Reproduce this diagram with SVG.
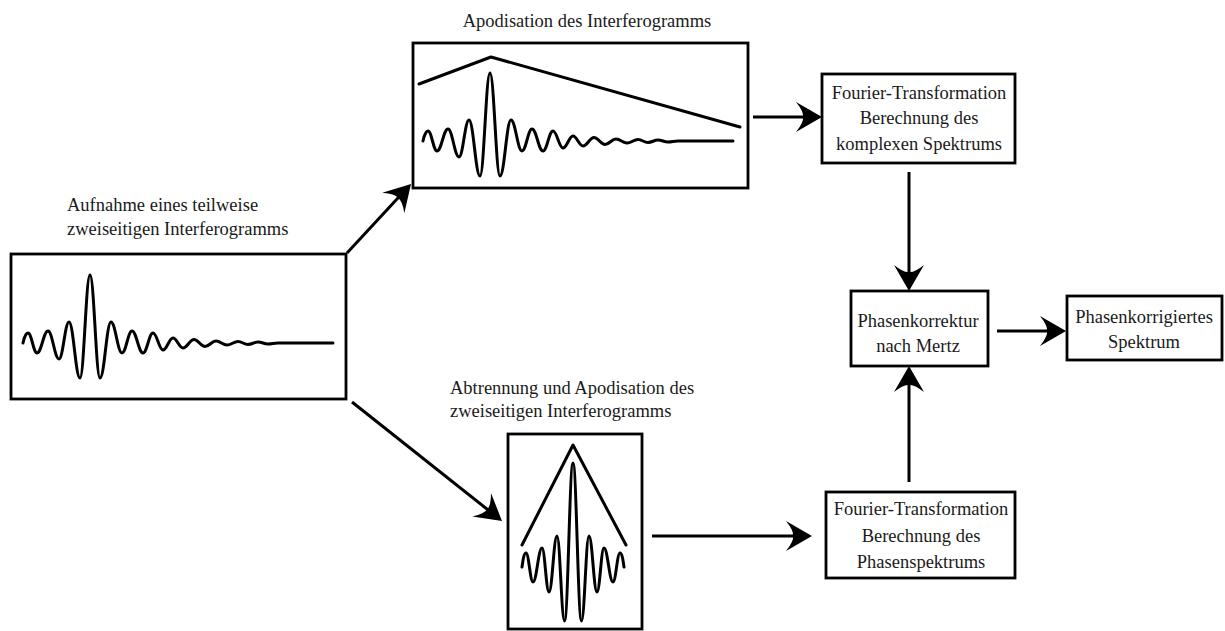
<svg xmlns="http://www.w3.org/2000/svg" xmlns:xlink="http://www.w3.org/1999/xlink" width="1225" height="631" viewBox="0 0 1225 631">
<style>
.box{fill:#fff;stroke:#000;stroke-width:2.8}
.wave{fill:none;stroke:#000;stroke-width:3;stroke-linejoin:round;stroke-linecap:round}
.conn{fill:none;stroke:#000;stroke-width:3}
text{font-family:"Liberation Serif","Times New Roman",serif;font-size:18.5px;fill:#1a1a1a}
.c{text-anchor:middle}
</style>
<defs>
<marker id="ah" markerUnits="userSpaceOnUse" markerWidth="40" markerHeight="40" viewBox="-20 -20 40 40" refX="0" refY="0" orient="auto" overflow="visible">
<path d="M10,0 L-16,-15 Q-8,-5 -9,0 Q-8,5 -16,15 Z" fill="#000"/>
</marker>
<path id="ifg" d="M-67,0 C-66,-5 -64,-10 -62,-10 C-58.4,-10 -56.6,10 -53,10 C-48.6,10 -46.4,-12 -42,-12 C-37.6,-12 -35.4,16 -31,16 C-27,16 -25,-21 -21,-21 C-16.6,-21 -14.4,35 -10,35 C-6,35 -4,-68 0,-68 C4,-68 6,35 10,35 C14.4,35 16.6,-21 21,-21 C25.4,-21 27.6,10 32,10 C36,10 38,-12 42,-12 C46.4,-12 48.6,10 53,10 C57,10 59,-10 63,-10 C67,-10 69,7 73,7 C77,7 79,-5 83,-5 C87,-5 89,5 93,5 C97.4,5 99.6,-3.5 104,-3.5 C108.4,-3.5 110.6,3.5 115,3.5 C119.4,3.5 121.6,-2 126,-2 C130.4,-2 132.6,2 137,2 C141.4,2 143.6,-1.5 148,-1.5 C152,-1.5 154,1.5 158,1.5 C162,1.5 164,-1 168,-1 C172,-1 174,1 178,1 C182,1 184,0 188,0 L243,0"/>
</defs>
<rect width="1225" height="631" fill="#fff"/>

<g id="connectors">
<line class="conn" x1="347" y1="253" x2="404.2" y2="191.3" marker-end="url(#ah)"/>
<line class="conn" x1="352" y1="402" x2="494.2" y2="514.8" marker-end="url(#ah)"/>
<line class="conn" x1="753" y1="117" x2="812" y2="117" marker-end="url(#ah)"/>
<line class="conn" x1="909" y1="172" x2="909" y2="281" marker-end="url(#ah)"/>
<line class="conn" x1="909" y1="482" x2="909" y2="376" marker-end="url(#ah)"/>
<line class="conn" x1="997" y1="331" x2="1056" y2="331" marker-end="url(#ah)"/>
<line class="conn" x1="652" y1="536" x2="802" y2="536" marker-end="url(#ah)"/>
</g>

<g id="node-aufnahme">
<text x="67" y="211">Aufnahme eines teilweise</text>
<text x="67" y="235">zweiseitigen Interferogramms</text>
<rect class="box" x="11" y="254" width="335" height="145"/>
<use xlink:href="#ifg" href="#ifg" class="wave" transform="translate(90,343)"/>
</g>

<g id="node-apodisation">
<text class="c" x="587" y="27">Apodisation des Interferogramms</text>
<rect class="box" x="413" y="43" width="335" height="145"/>
<polyline class="wave" points="419,84 491,57 740,127"/>
<use xlink:href="#ifg" href="#ifg" class="wave" transform="translate(490,141)"/>
</g>

<g id="node-abtrennung">
<text x="450" y="394">Abtrennung und Apodisation des</text>
<text x="450" y="417">zweiseitigen Interferogramms</text>
<rect class="box" x="508" y="434" width="134" height="195"/>
<polyline class="wave" points="522,545 573,445 626,545"/>
<path class="wave" transform="translate(573,567)" d="M-51,0 C-50,-7 -49,-14 -47,-14 C-44.2,-14 -42.8,15 -40,15 C-36.4,15 -34.6,-19 -31,-19 C-28.2,-19 -26.8,25 -24,25 C-20.8,25 -19.2,-31 -16,-31 C-13,-31 -11.5,54 -8.5,54 C-5,54 -3.4,-104 0,-104 C3.4,-104 5,54 8.5,54 C11.5,54 13,-31 16,-31 C19.2,-31 20.8,25 24,25 C26.8,25 28.2,-19 31,-19 C34.6,-19 36.4,15 40,15 C42.8,15 44.2,-14 47,-14 C49,-14 50,-7 51,0"/>
</g>

<g id="node-ft-komplex">
<rect class="box" x="822" y="74" width="193" height="89"/>
<text class="c" x="919" y="99">Fourier-Transformation</text>
<text class="c" x="919" y="124">Berechnung des</text>
<text class="c" x="919" y="150">komplexen Spektrums</text>
</g>

<g id="node-phasenkorrektur">
<rect class="box" x="851" y="291" width="137" height="75"/>
<text class="c" x="918" y="327">Phasenkorrektur</text>
<text class="c" x="918" y="352">nach Mertz</text>
</g>

<g id="node-spektrum">
<rect class="box" x="1067" y="296" width="155" height="64"/>
<text class="c" x="1144" y="323">Phasenkorrigiertes</text>
<text class="c" x="1144" y="348">Spektrum</text>
</g>

<g id="node-ft-phase">
<rect class="box" x="826" y="492" width="189" height="86"/>
<text class="c" x="921" y="515">Fourier-Transformation</text>
<text class="c" x="921" y="542">Berechnung des</text>
<text class="c" x="921" y="568">Phasenspektrums</text>
</g>
</svg>
